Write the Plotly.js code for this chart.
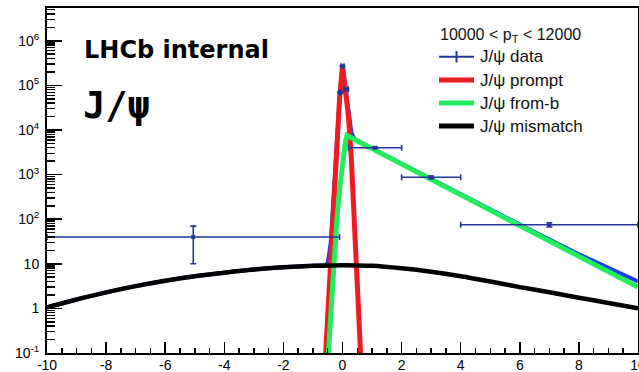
<!DOCTYPE html>
<html><head><meta charset="utf-8">
<script src="https://cdn.plot.ly/plotly-3.0.1.min.js"></script>
<style>html,body{margin:0;padding:0;background:#fff}#chart{width:639px;height:372px}</style>
</head><body><div id="chart"></div>
<script>
// ---- data ----
const dataX    = [-5.05, -0.075, 0, 0.125, 1.1, 3, 7];
const dataXErr = [4.95, 0.025, 0.05, 0.075, 0.9, 1, 3];
const dataY    = [40, 69000, 270000, 82000, 4000, 870, 75];
const dataYErr = [30, 2500, 5000, 2800, 150, 60, 8];

const promptX = [-0.65, -0.6, -0.5, -0.4, -0.3, -0.2, -0.1, 0, 0.1, 0.2, 0.3, 0.4, 0.5, 0.6, 0.7];
const promptY = [0.01, 0.04, 0.93, 19, 430, 5900, 50000, 270000, 81000, 21000, 2200, 120, 4.3, 0.14, 0.004];

const fromBX = [-0.6, -0.5, -0.4, -0.3, -0.2, -0.1, 0, 0.1, 0.15, 0.3, 0.5, 1, 2, 3, 4, 5, 6, 7, 8, 9, 10];
const fromBY = [0.005, 0.06, 0.9, 12, 80, 450, 2000, 5500, 7500, 6650, 5700, 3820, 1730, 780, 352, 159, 72, 32.5, 14.7, 6.6, 3.0];

const mismatchX = [-10, -9, -8, -7, -6, -5, -4, -3, -2, -1, 0, 1, 2, 3, 4, 5, 6, 7, 8, 9, 10];
const mismatchY = [1.05, 1.58, 2.29, 3.16, 4.17, 5.25, 6.31, 7.41, 8.32, 9.0, 9.33, 9.0, 7.9, 6.6, 5.25, 4.0, 3.0, 2.3, 1.74, 1.32, 1.0];

const totalX = [-10, -9, -8, -7, -6, -5, -4, -3, -2, -1, -0.6, -0.5, -0.4, -0.3, -0.2, -0.1, 0, 0.1, 0.2, 0.3, 0.4, 0.5, 0.6, 1, 2, 3, 4, 5, 6, 7, 8, 9, 10];
const totalY = [1.05, 1.58, 2.29, 3.16, 4.17, 5.25, 6.31, 7.41, 8.32, 9.0, 9.3, 10.3, 29.2, 451, 5990, 50460, 272000, 86500, 28300, 8860, 6280, 5710, 5280, 3829, 1738, 787, 357, 163, 75, 34.8, 16.4, 7.9, 4.0];

const xTickVals = [-10, -8, -6, -4, -2, 0, 2, 4, 6, 8, 10];
const xTickText = ["-10", "-8", "-6", "-4", "-2", "0", "2", "4", "6", "8", "10"];
const yTickVals = [0.1, 1, 10, 100, 1000, 10000, 100000, 1000000];
const yTickText = ["10<sup>-1</sup>", "1", "10", "10<sup>2</sup>", "10<sup>3</sup>", "10<sup>4</sup>", "10<sup>5</sup>", "10<sup>6</sup>"];

const legendHeader = "10000 &lt; p<sub>T</sub> &lt; 12000";
const legendLabels = ["J/ψ data", "J/ψ prompt", "J/ψ from-b", "J/ψ mismatch"];
const tagText = "LHCb internal";
const particleText = "J/ψ";

// ---- styles ----
const cData = "#24369c", cTotal = "#1f3cf0", cPrompt = "#f01a24", cFromB = "#22ee5c", cMis = "#000000";
const W = 639, H = 372, ML = 47, MR = 1, MT = 8, MB = 19;
const PW = W - ML - MR, PH = H - MT - MB;
const px = v => (v - ML) / PW;
const py = v => (H - MB - v) / PH;

// minor tick positions for log axis
const yMinor = [];
for (let d = -1; d <= 6; d++) for (let k = 2; k <= 9; k++) { const v = k * Math.pow(10, d); if (v < 5.5e6) yMinor.push(v); }

// split total into smooth wide part and sharp peak part
const splitIdx = totalX.indexOf(-0.6);
const totXa = totalX.slice(0, splitIdx + 1), totYa = totalY.slice(0, splitIdx + 1);
const totXb = totalX.slice(splitIdx), totYb = totalY.slice(splitIdx);

const traces = [
  {x: totXa, y: totYa, mode: 'lines', line: {color: cTotal, width: 4, shape: 'spline', smoothing: 1}},
  {x: totXb, y: totYb, mode: 'lines', line: {color: cTotal, width: 4}},
  {x: promptX, y: promptY, mode: 'lines', line: {color: cPrompt, width: 5}},
  {x: fromBX, y: fromBY, mode: 'lines', line: {color: cFromB, width: 5}},
  {x: mismatchX, y: mismatchY, mode: 'lines', line: {color: cMis, width: 4.5, shape: 'spline', smoothing: 1}},
  {x: dataX, y: dataY, mode: 'markers', marker: {symbol: 'square', size: 4, color: cData},
   error_x: {type: 'data', array: dataXErr, visible: true, color: cData, thickness: 1.6, width: 3},
   error_y: {type: 'data', array: dataYErr, visible: true, color: cData, thickness: 1.6, width: 3}}
];

const rows = [56.7, 80, 103, 126];
const legColors = [cData, cPrompt, cFromB, cMis];
const shapes = [];
rows.forEach((r, i) => {
  shapes.push({type: 'line', xref: 'paper', yref: 'paper', x0: px(439), x1: px(474), y0: py(r), y1: py(r),
               line: {color: legColors[i], width: i === 0 ? 2 : 5}});
});
shapes.push({type: 'line', xref: 'paper', yref: 'paper', x0: px(456.5), x1: px(456.5), y0: py(51), y1: py(62.5),
             line: {color: cData, width: 2}});

const annotations = [
  {xref: 'paper', yref: 'paper', x: px(511), y: py(35), xanchor: 'center', yanchor: 'middle', showarrow: false,
   text: legendHeader, font: {family: 'Liberation Sans, Arial, sans-serif', size: 16, color: '#111'}},
  {xref: 'paper', yref: 'paper', x: px(82), y: py(50), xanchor: 'left', yanchor: 'middle', showarrow: false,
   text: tagText, font: {family: 'DejaVu Sans, sans-serif', size: 24, weight: 'bold', color: '#000'}},
  {xref: 'paper', yref: 'paper', x: px(81), y: py(106), xanchor: 'left', yanchor: 'middle', showarrow: false,
   text: particleText, font: {family: 'DejaVu Sans Mono, monospace', size: 37, weight: 'bold', color: '#000'}}
];
rows.forEach((r, i) => {
  annotations.push({xref: 'paper', yref: 'paper', x: px(478), y: py(r), xanchor: 'left', yanchor: 'middle', showarrow: false,
    text: legendLabels[i], font: {family: 'Liberation Sans, Arial, sans-serif', size: 17, color: '#111'}});
});

const tickFont = {family: 'Liberation Sans, Arial, sans-serif', size: 14, color: '#000'};
const layout = {
  width: W, height: H, margin: {l: ML, r: MR, t: MT, b: MB, pad: 0},
  paper_bgcolor: '#fff', plot_bgcolor: '#fff', showlegend: false,
  xaxis: {range: [-10, 10], tickmode: 'array', tickvals: xTickVals, ticktext: xTickText,
          ticks: 'inside', ticklen: 11, tickwidth: 1.5, tickcolor: '#000',
          minor: {ticks: 'inside', ticklen: 5.5, tickwidth: 1.5, tickcolor: '#000', dtick: 0.5, tick0: 0, showgrid: false},
          showline: true, linecolor: '#000', linewidth: 2, mirror: true, showgrid: false, zeroline: false,
          tickfont: tickFont, ticklabeloverflow: 'allow', ticklabelstandoff: -2},
  yaxis: {type: 'log', range: [-1, 6.735], tickmode: 'array', tickvals: yTickVals, ticktext: yTickText,
          ticks: 'inside', ticklen: 15, tickwidth: 1.5, tickcolor: '#000',
          minor: {ticks: 'inside', ticklen: 7.5, tickwidth: 1.5, tickcolor: '#000', tickmode: 'array', tickvals: yMinor, showgrid: false},
          showline: true, linecolor: '#000', linewidth: 2, mirror: true, showgrid: false, zeroline: false,
          tickfont: tickFont, ticklabeloverflow: 'allow', ticklabelstandoff: 3},
  shapes: shapes, annotations: annotations
};
Plotly.newPlot('chart', traces, layout, {staticPlot: true, displayModeBar: false});
</script></body></html>
